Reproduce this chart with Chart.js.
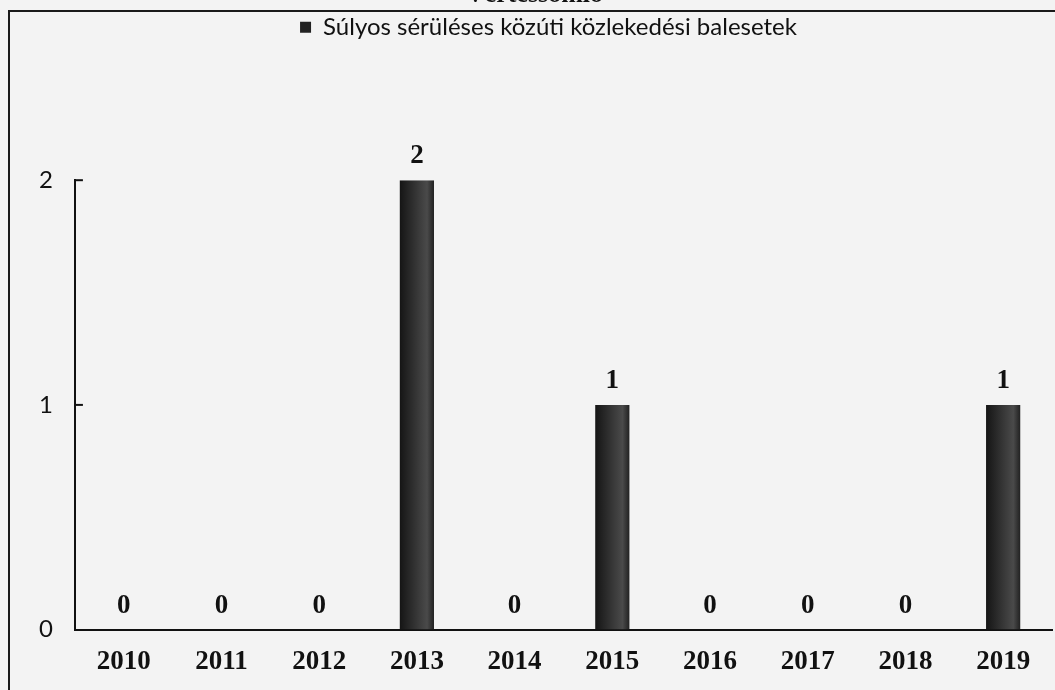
<!DOCTYPE html>
<html>
<head>
<meta charset="utf-8">
<script src="https://cdn.jsdelivr.net/npm/chart.js@4.4.0/dist/chart.umd.min.js"></script>
<style>
body{margin:0;background:#f3f3f3;width:1055px;height:690px;overflow:hidden;position:relative}
#wrap{position:absolute;left:0;top:-30px;width:1055px;height:738px}
#marco{position:absolute;left:8px;top:10px;width:1100px;height:800px;border:2px solid #1a1a1a;pointer-events:none}
</style>
</head>
<body>
<div id="wrap"><canvas id="grafico"></canvas></div>
<div id="marco"></div>
<script>
// datos
const titulo = 'Vértessomló';
const serie = 'Súlyos sérüléses közúti közlekedési balesetek';
const evek = ['2010', '2011', '2012', '2013', '2014', '2015', '2016', '2017', '2018', '2019'];
const balesetek = [0, 0, 0, 2, 0, 1, 0, 0, 0, 1];
const yTicks = [0, 1, 2];

// barra oscura con un poco de brillo como en el escaneo
function colorBarra(c) {
    const x = c.chart.scales.x;
    if (!x || c.dataIndex === undefined) return '#222';
    const cx = x.getPixelForValue(c.dataIndex);
    if (!isFinite(cx)) return '#222';
    const g = c.chart.ctx.createLinearGradient(cx - 17, 0, cx + 17, 0);
    g.addColorStop(0, '#151515');
    g.addColorStop(0.55, '#3a3a3a');
    g.addColorStop(0.8, '#4a4a4a');
    g.addColorStop(1, '#222');
    return g;
}

// espacio entre leyenda y area del grafico
const espacio = {
    id: 'espacio',
    beforeLayout(chart) {
        const lg = chart.legend;
        if (lg && !lg._parche) {
            const f = lg.fit;
            lg.fit = function () { f.call(this); this.height += 131; };
            lg._parche = true;
        }
    },
    afterLayout(chart) {
        // la leyenda del original esta un poco a la derecha del centro
        if (chart.legend) chart.legend.left += 28;
    }
};

// etiquetas de valor encima de las barras + marcas del eje y
const etiquetas = {
    id: 'etiquetas',
    afterDatasetsDraw(chart) {
        const ctx = chart.ctx;
        const meta = chart.getDatasetMeta(0);
        ctx.save();
        ctx.font = 'bold 27px "Liberation Serif", "Times New Roman", serif';
        ctx.fillStyle = '#111';
        ctx.textAlign = 'center';
        ctx.textBaseline = 'alphabetic';
        meta.data.forEach((el, i) => {
            ctx.fillText(String(balesetek[i]), el.x, el.y - 17);
        });
        const y = chart.scales.y;
        ctx.strokeStyle = '#111';
        ctx.lineWidth = 2;
        yTicks.forEach(v => {
            if (v === 0) return;
            const py = y.getPixelForValue(v);
            ctx.beginPath();
            ctx.moveTo(y.right, py);
            ctx.lineTo(y.right + 8, py);
            ctx.stroke();
        });
        ctx.restore();
    }
};

new Chart(document.getElementById('grafico'), {
    type: 'bar',
    data: {
        labels: evek,
        datasets: [{
            label: serie,
            data: balesetek,
            backgroundColor: colorBarra,
            borderWidth: 0,
            categoryPercentage: 1,
            barPercentage: 0.35
        }]
    },
    options: {
        responsive: true,
        maintainAspectRatio: false,
        animation: false,
        layout: { padding: { left: 17, right: 3, top: 0, bottom: 14 } },
        plugins: {
            title: {
                display: true,
                text: titulo,
                color: '#111',
                font: { family: '"Liberation Serif", "Times New Roman", serif', size: 26, weight: 'bold' },
                padding: { top: 10, bottom: 4 }
            },
            legend: {
                display: true,
                position: 'top',
                labels: {
                    color: '#111',
                    boxWidth: 11,
                    boxHeight: 11,
                    padding: 0,
                    font: { family: 'Lato, "Open Sans", sans-serif', size: 24 }
                }
            },
            tooltip: { enabled: false }
        },
        scales: {
            x: {
                grid: { display: false, drawTicks: false },
                border: { display: true, color: '#111', width: 2 },
                ticks: {
                    color: '#111',
                    padding: 16,
                    font: { family: '"Liberation Serif", "Times New Roman", serif', size: 27, weight: 'bold' }
                }
            },
            y: {
                min: 0,
                max: 2,
                afterBuildTicks: s => { s.ticks = yTicks.map(v => ({ value: v })); },
                grid: { display: false, drawTicks: false },
                border: { display: true, color: '#111', width: 2 },
                ticks: {
                    color: '#111',
                    padding: 22,
                    font: { family: 'Lato, "Open Sans", sans-serif', size: 24 }
                }
            }
        }
    },
    plugins: [espacio, etiquetas]
});
</script>
</body>
</html>
